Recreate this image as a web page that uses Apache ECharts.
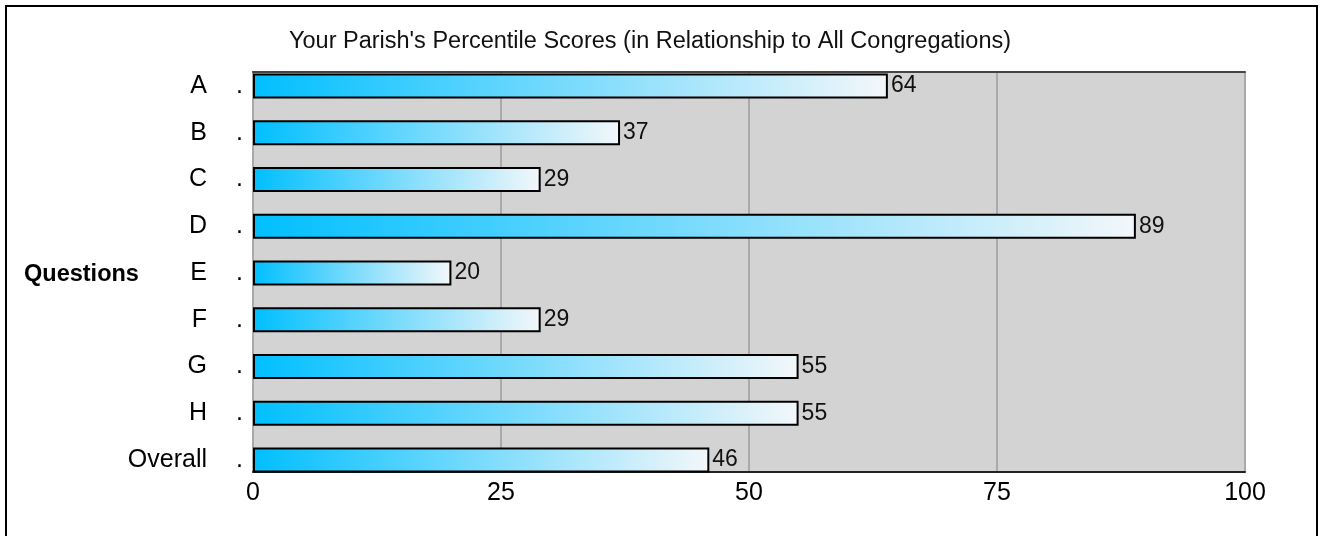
<!DOCTYPE html>
<html>
<head>
<meta charset="utf-8">
<script src="https://cdn.jsdelivr.net/npm/echarts@6/dist/echarts.min.js"></script>
<style>
html,body{margin:0;padding:0;background:#fff;}
#frame{position:absolute;left:5px;top:5px;width:1313px;height:540px;border:2px solid #000;box-sizing:border-box;}
#chart{position:absolute;left:0;top:0;width:1321px;height:536px;}
</style>
</head>
<body>
<div id="frame"></div>
<div id="chart"></div>
<script>
const categories = ['A','B','C','D','E','F','G','H','Overall'];
const values = [64,37,29,89,20,29,55,55,46];
const xTicks = [0,25,50,75,100];
const titleText = "Your Parish's Percentile Scores (in Relationship to All Congregations)";
const axisName = 'Questions';

const FONT = 'Liberation Sans, Arial, sans-serif';
const chart = echarts.init(document.getElementById('chart'), null, {renderer:'canvas'});

const option = {
  animation:false,
  title:[{
    text:titleText,
    left:284,
    top:25,
    textStyle:{fontFamily:FONT,fontSize:23.5,fontWeight:'normal',color:'#111'}
  },{
    text:axisName,
    left:19,
    top:258,
    textStyle:{fontFamily:FONT,fontSize:23.5,fontWeight:'bold',color:'#000'}
  }],
  grid:[
    {left:253, width:992, top:62.6, height:420.75, show:false},
    {left:253, width:992, top:72, height:400, show:true, backgroundColor:'#D3D3D3', borderWidth:0, z:0}
  ],
  xAxis:[
    {gridIndex:0, type:'value', min:xTicks[0], max:xTicks[xTicks.length-1], interval:25, show:false},
    {gridIndex:1, type:'value', min:xTicks[0], max:xTicks[xTicks.length-1], interval:25, position:'bottom',
     axisLine:{show:true, lineStyle:{color:'#222', width:2}},
     axisTick:{show:false},
     axisLabel:{color:'#000', fontFamily:FONT, fontSize:25, margin:9},
     splitLine:{show:true, lineStyle:{color:'#A9A9A9', width:2}}},
    {gridIndex:1, type:'value', min:0, max:100, position:'top',
     axisLine:{show:true, lineStyle:{color:'#444', width:2}},
     axisTick:{show:false}, axisLabel:{show:false}, splitLine:{show:false}}
  ],
  yAxis:[
    {gridIndex:0, type:'category', data:categories, inverse:true,
     axisLine:{show:false}, axisTick:{show:false},
     axisLabel:{margin:10, fontFamily:FONT, fontSize:25, color:'#000',
       formatter: v => '{n|' + v + '}{d|.}',
       rich:{n:{fontFamily:FONT, fontSize:25, color:'#000'}, d:{fontFamily:FONT, fontSize:25, color:'#000', width:36, align:'right'}}}},
    {gridIndex:1, type:'value', min:0, max:1,
     axisLine:{show:true, lineStyle:{color:'#A9A9A9', width:2}},
     axisTick:{show:false}, axisLabel:{show:false}, splitLine:{show:false}}
  ],
  series:[{
    type:'bar',
    xAxisIndex:0, yAxisIndex:0,
    data:values,
    barWidth:25,
    z:5,
    itemStyle:{
      color:new echarts.graphic.LinearGradient(0,0,1,0,[{offset:0,color:'#00BFFF'},{offset:1,color:'#F3F7FA'}]),
      borderColor:'#000', borderWidth:2
    },
    label:{show:true, position:'right', distance:3, fontFamily:FONT, fontSize:23, color:'#111'}
  }]
};
chart.setOption(option);
</script>
</body>
</html>
